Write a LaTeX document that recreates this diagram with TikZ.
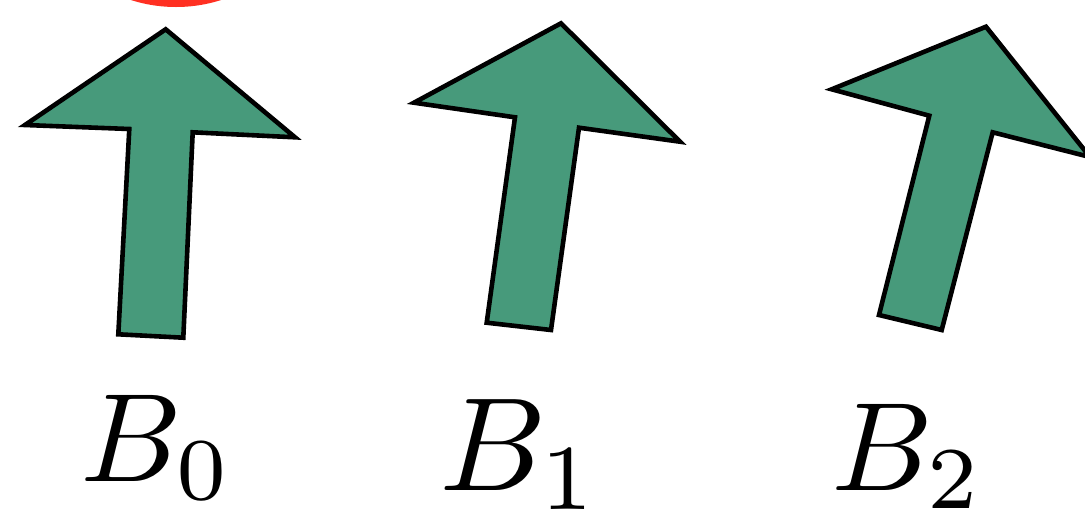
\documentclass[tikz,border=0pt]{standalone}
\usepackage{tikz}
\definecolor{arrowgreen}{RGB}{71,154,123}
\definecolor{topred}{RGB}{255,48,34}
\tikzset{
  arrowshape/.style={fill=arrowgreen, draw=black, line width=4.6pt, line join=miter},
  blabel/.style={inner sep=0pt, anchor=base west, text=black}
}
\begin{document}
\begin{tikzpicture}[x=1pt,y=-1pt]
\useasboundingbox (0,0) rectangle (1085,515);
\clip (0,0) rectangle (1085,515);
% red shape at top
\fill[topred] (176,-141) circle[radius=148];
% arrow 0
\draw[arrowshape] (165.7,29.3) -- (295,137.3) -- (192.7,132.3) -- (183.3,337.7)
  -- (118.3,334.3) -- (129.3,129) -- (25,125) -- cycle;
% arrow 1
\draw[arrowshape] (561,23.3) -- (680,141.7) -- (579,127.7) -- (551,330)
  -- (486.7,322.7) -- (515,117.3) -- (414,102.7) -- cycle;
% arrow 2
\draw[arrowshape] (986,26.7) -- (1090,157) -- (992.7,132.3) -- (941.7,330)
  -- (879,315) -- (929.3,115.7) -- (831.7,89.3) -- cycle;
% labels
\node[blabel, scale=12.6] (b0) at (78,481) {$B_0$};
\node[blabel, scale=13.3] (b1) at (437,490) {$B_1$};
\node[blabel, scale=12.6] (b2) at (829,490) {$B_2$};
\end{tikzpicture}
\end{document}
